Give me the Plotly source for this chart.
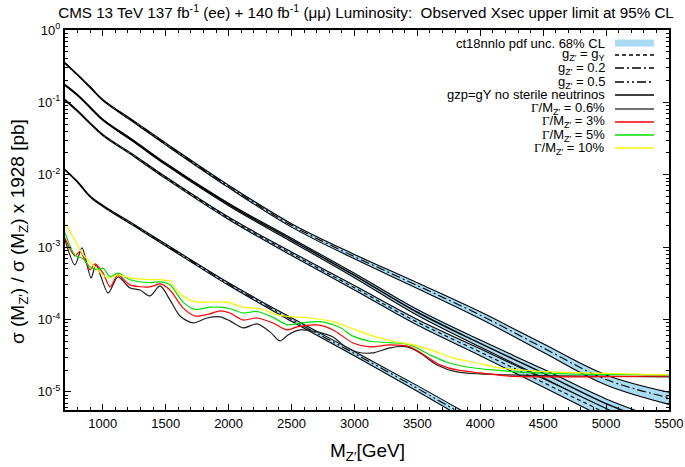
import plotly.graph_objects as go

# ---------------- data ----------------
theory_mass = [700, 800, 900, 1000, 1250, 1500, 2000, 2500, 3000, 3500, 4000, 4500, 5000, 5500]
pdf_unc = [0.015, 0.017, 0.018, 0.02, 0.025, 0.03, 0.04, 0.055, 0.07, 0.09, 0.11, 0.135, 0.16, 0.19]

xs_gz02 = [0.350, 0.240, 0.162, 0.108, 0.0537, 0.0267, 0.00692, 0.00200, 7.41e-4, 2.95e-4,
           1.15e-4, 4.07e-5, 1.48e-5, 8.3e-6]
xs_nosterile = [0.174, 0.126, 0.0851, 0.0575, 0.0288, 0.0141, 0.00389, 0.00126, 4.07e-4, 1.26e-4,
                4.68e-5, 1.82e-5, 6.9e-6, 3.2e-6]
xs_gzY = [0.108, 0.0759, 0.0513, 0.0355, 0.0182, 0.00912, 0.00251, 8.13e-4, 2.75e-4, 9.2e-5,
          3.55e-5, 1.35e-5, 5.1e-6, 2.0e-6]
mass_gz05 = [700, 800, 900, 1000, 1250, 1500, 2000, 2500, 3000, 3500, 4000]
xs_gz05 = [0.0117, 0.00794, 0.00501, 0.00372, 0.00200, 0.00107, 3.09e-4, 1.0e-4, 3.39e-5, 1.12e-5, 3.55e-6]
unc_gz05 = [0.015, 0.017, 0.018, 0.02, 0.025, 0.03, 0.04, 0.055, 0.07, 0.09, 0.11]

mass_w06 = [700, 779, 835, 907, 946, 1042, 1121, 1217, 1296, 1375, 1455, 1534, 1614, 1717, 1828,
            1932, 2011, 2115, 2226, 2329, 2409, 2472, 2568, 2703, 2830, 2909, 3021, 3148, 3283,
            3418, 3521, 3656, 3815, 3998, 4213, 4634, 5500]
lim_w06 = [1.26e-3, 5.68e-4, 9.75e-4, 3.76e-4, 5.68e-4, 2.33e-4, 3.87e-4, 2.73e-4, 2.56e-4, 2.12e-4,
           2.91e-4, 1.87e-4, 1.12e-4, 8.97e-5, 1.05e-4, 1.09e-4, 9.57e-5, 7.66e-5, 8.69e-5, 6.75e-5,
           5.06e-5, 6.12e-5, 7.18e-5, 6.75e-5, 5.75e-5, 4.46e-5, 3.56e-5, 3.46e-5, 4.06e-5, 4.19e-5,
           3.46e-5, 2.36e-5, 1.89e-5, 1.77e-5, 1.72e-5, 1.66e-5, 1.61e-5]

mass_w3 = [700, 779, 819, 875, 899, 938, 1002, 1058, 1121, 1217, 1375, 1455, 1534, 1638, 1733, 1852,
           1932, 2011, 2115, 2226, 2353, 2464, 2544, 2703, 2830, 2989, 3124, 3283, 3442, 3577, 3680,
           3815, 3998, 4213, 4689, 5500]
lim_w3 = [1.34e-3, 7.59e-4, 8.71e-4, 5.75e-4, 4.84e-4, 5.89e-4, 4.41e-4, 2.82e-4, 4.13e-4, 3.01e-4,
          2.82e-4, 3.10e-4, 2.56e-4, 1.45e-4, 1.12e-4, 1.20e-4, 1.32e-4, 1.23e-4, 9.86e-5, 1.05e-4,
          8.97e-5, 7.18e-5, 7.91e-5, 8.41e-5, 7.18e-5, 4.75e-5, 4.19e-5, 4.46e-5, 4.19e-5, 3.04e-5,
          2.36e-5, 2.01e-5, 1.83e-5, 1.66e-5, 1.61e-5, 1.66e-5]

mass_w5 = [700, 779, 843, 899, 954, 1002, 1058, 1121, 1217, 1375, 1455, 1534, 1638, 1733, 1852, 1932,
           2011, 2115, 2226, 2353, 2464, 2568, 2726, 2885, 2989, 3124, 3283, 3442, 3601, 3736, 3895,
           4101, 4292, 4689, 5500]
lim_w5 = [1.58e-3, 7.76e-4, 6.92e-4, 5.37e-4, 4.90e-4, 5.13e-4, 3.89e-4, 4.37e-4, 3.55e-4, 3.24e-4,
          3.31e-4, 3.02e-4, 1.74e-4, 1.38e-4, 1.48e-4, 1.48e-4, 1.41e-4, 1.23e-4, 1.29e-4, 1.07e-4,
          8.51e-5, 8.91e-5, 9.33e-5, 7.76e-5, 5.89e-5, 5.01e-5, 4.79e-5, 4.47e-5, 3.24e-5, 2.57e-5,
          2.21e-5, 2.01e-5, 1.89e-5, 1.77e-5, 1.72e-5]

mass_w10 = [700, 764, 843, 923, 1042, 1121, 1217, 1375, 1455, 1534, 1600, 1717, 1852, 1932, 2011,
            2115, 2250, 2385, 2488, 2647, 2830, 3005, 3148, 3307, 3466, 3624, 3783, 3974, 4157, 4419,
            4817, 5500]
lim_w10 = [2.16e-3, 1.38e-3, 7.94e-4, 5.62e-4, 3.72e-4, 4.13e-4, 3.76e-4, 3.55e-4, 3.55e-4, 3.39e-4,
           2.40e-4, 1.78e-4, 1.74e-4, 1.75e-4, 1.70e-4, 1.48e-4, 1.41e-4, 1.17e-4, 1.10e-4, 1.05e-4,
           9.33e-5, 7.24e-5, 5.89e-5, 5.01e-5, 4.47e-5, 3.72e-5, 2.95e-5, 2.51e-5, 2.14e-5, 1.95e-5,
           1.83e-5, 1.72e-5]

x_ticks = [1000, 1500, 2000, 2500, 3000, 3500, 4000, 4500, 5000, 5500]
y_ticks = [1, 0.1, 0.01, 1e-3, 1e-4, 1e-5]
y_ticktext = ["10<sup>0</sup>", "10<sup>-1</sup>", "10<sup>-2</sup>", "10<sup>-3</sup>",
              "10<sup>-4</sup>", "10<sup>-5</sup>"]

BAND = "#a9dcf3"
FONT = "Liberation Sans, Arial, Helvetica, sans-serif"
DASH_Y = "4px,3px"
DASH_02 = "9px,3px,2px,3px"
DASH_05 = "9px,3px,2px,3px,2px,3px"

fig = go.Figure()

theory = [
    (theory_mass, xs_gz02, pdf_unc, DASH_02, 1.1),
    (theory_mass, xs_nosterile, pdf_unc, "solid", 1.5),
    (theory_mass, xs_gzY, pdf_unc, DASH_Y, 1.1),
    (mass_gz05, xs_gz05, unc_gz05, DASH_05, 1.1),
]

for m, xs, u, dash, w in theory:
    lo = [v * (1 - e) for v, e in zip(xs, u)]
    hi = [v * (1 + e) for v, e in zip(xs, u)]
    fig.add_trace(go.Scatter(x=m, y=lo, mode="lines", line=dict(color="black", width=1.1, shape="spline"),
                             showlegend=False, hoverinfo="skip"))
    fig.add_trace(go.Scatter(x=m, y=hi, mode="lines", fill="tonexty", fillcolor=BAND,
                             line=dict(color="black", width=1.1, shape="spline"),
                             showlegend=False, hoverinfo="skip"))
for m, xs, u, dash, w in theory:
    fig.add_trace(go.Scatter(x=m, y=xs, mode="lines",
                             line=dict(color="black", width=w, dash=dash, shape="spline"),
                             showlegend=False))

obs = [
    (mass_w06, lim_w06, "#202020"),
    (mass_w3, lim_w3, "#ff0000"),
    (mass_w5, lim_w5, "#00e000"),
    (mass_w10, lim_w10, "#f5f500"),
]
for m, lim, col in obs:
    fig.add_trace(go.Scatter(x=m, y=lim, mode="lines",
                             line=dict(color=col, width=1.2, shape="spline", smoothing=0.8),
                             showlegend=False))

# ---------------- custom gnuplot-style key ----------------
L, T, W, H = 65, 30, 604, 380


def px(xp):
    return (xp - L) / W


def py(yp):
    return (T + H - yp) / H


G = '<span style="font-family:Liberation Serif, Times New Roman, serif">Γ</span>'
key = [
    ("ct18nnlo pdf unc. 68% CL", None, None, 43),
    ("g<sub>Z′</sub> = g<sub>Y</sub>", "black", DASH_Y, 55),
    ("g<sub>Z′</sub> = 0.2", "black", DASH_02, 68),
    ("g<sub>Z′</sub> = 0.5", "black", DASH_05, 82),
    ("gzp=gY no sterile neutrinos", "black", "solid", 95),
    (G + "/M<sub>Z′</sub> = 0.6%", "#404040", "solid", 109),
    (G + "/M<sub>Z′</sub> = 3%", "#ff0000", "solid", 122),
    (G + "/M<sub>Z′</sub> = 5%", "#00e000", "solid", 135),
    (G + "/M<sub>Z′</sub> = 10%", "#f5f500", "solid", 148),
]
shapes = []
annotations = []
for text, col, dash, yrow in key:
    annotations.append(dict(x=px(607), y=py(yrow), xref="paper", yref="paper", text=text,
                            showarrow=False, xanchor="right", yanchor="middle",
                            font=dict(family=FONT, size=13, color="black")))
    if col is None:
        shapes.append(dict(type="rect", xref="paper", yref="paper", x0=px(615), x1=px(654),
                           y0=py(46.5), y1=py(39.5), fillcolor=BAND, line=dict(width=0)))
    else:
        shapes.append(dict(type="line", xref="paper", yref="paper", x0=px(615), x1=px(654),
                           y0=py(yrow), y1=py(yrow), line=dict(color=col, width=1.3, dash=dash)))

# axis titles as annotations for exact placement
annotations.append(dict(x=px(367), y=py(452), xref="paper", yref="paper", text="M<sub>Z′</sub>[GeV]",
                        showarrow=False, xanchor="center", yanchor="middle",
                        font=dict(family=FONT, size=19, color="black")))
annotations.append(dict(x=px(19), y=py(232), xref="paper", yref="paper",
                        text="σ (M<sub>Z′</sub>) / σ (M<sub>Z</sub>) x 1928 [pb]",
                        showarrow=False, xanchor="center", yanchor="middle", textangle=-90,
                        font=dict(family=FONT, size=19, color="black")))

fig.update_layout(
    width=685, height=467,
    margin=dict(l=L, r=685 - L - W, t=T, b=467 - T - H, autoexpand=False),
    plot_bgcolor="white", paper_bgcolor="white",
    font=dict(family=FONT, color="black"),
    title=dict(text="CMS 13 TeV 137 fb<sup>-1</sup> (ee) + 140 fb<sup>-1</sup> (μμ) Luminosity:\u00a0 Observed Xsec upper limit at 95% CL",
               x=(366 - L) / W, xref="paper", xanchor="center", y=1 - 13 / 467, yref="container", yanchor="middle",
               font=dict(family=FONT, size=15.2, color="black")),
    xaxis=dict(range=[700, 5500], tickmode="array", tickvals=x_ticks, ticks="inside", ticklen=6,
               tickwidth=1, tickcolor="black", showline=True, linecolor="black", linewidth=2,
               mirror="allticks", showgrid=False, zeroline=False, automargin=False,
               minor=dict(ticks="inside", ticklen=3, dtick=100, tickwidth=1, tickcolor="black", showgrid=False),
               tickfont=dict(family=FONT, size=13)),
    yaxis=dict(type="log", range=[-5.25, 0], tickmode="array", tickvals=y_ticks, ticktext=y_ticktext,
               ticks="inside", ticklen=6, tickwidth=1, tickcolor="black", showline=True, linecolor="black",
               linewidth=2, mirror="allticks", showgrid=False, zeroline=False, automargin=False,
               minor=dict(ticks="inside", ticklen=3, dtick="D1", tickwidth=1, tickcolor="black", showgrid=False),
               tickfont=dict(family=FONT, size=13)),
    shapes=shapes,
    annotations=annotations,
)

fig.write_html("out.html", config={"displayModeBar": False},
               post_script="document.body.style.margin='0px';document.body.style.padding='0px';"
                           "document.body.style.overflow='hidden';")
